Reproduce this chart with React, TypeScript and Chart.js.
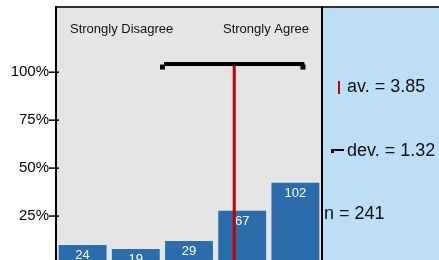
import React, { useEffect, useRef } from "react";
import { Chart, registerables } from "chart.js";

Chart.register(...registerables);

const categories = ["1", "2", "3", "4", "5"];
const counts = [24, 19, 29, 67, 102];
const total = 241;
const meanValue = 3.85;
const devValue = 1.32;
const yTicks = [25, 50, 75, 100];
const yMax = 134;
const errLevel = 104;
const leftLabel = "Strongly Disagree";
const rightLabel = "Strongly Agree";
const statLabels = ["av. = 3.85", "dev. = 1.32", "n = 241"];

const FONT = '"Liberation Sans", Arial, sans-serif';

export default function App() {
  const ref = useRef<HTMLCanvasElement | null>(null);

  useEffect(() => {
    const canvas = ref.current;
    if (!canvas) return;
    const percents = counts.map((c) => (c / total) * 100);

    const deco = {
      id: "deco",
      beforeDraw(chart: any) {
        const { ctx, chartArea: a, width, height } = chart;
        ctx.save();
        ctx.fillStyle = "#e5e5e5";
        ctx.fillRect(a.left, a.top, a.right - a.left, height - a.top);
        ctx.fillStyle = "#bddff6";
        ctx.fillRect(a.right, a.top, width - a.right, height - a.top);
        ctx.restore();
      },
      afterDatasetsDraw(chart: any) {
        const { ctx, chartArea: a, width, height, scales } = chart;
        const xs = scales.x;
        const ys = scales.y;
        ctx.save();
        // data labels
        const meta = chart.getDatasetMeta(0);
        ctx.fillStyle = "#ffffff";
        ctx.font = `13px ${FONT}`;
        ctx.textAlign = "center";
        ctx.textBaseline = "alphabetic";
        meta.data.forEach((bar: any, i: number) => {
          ctx.fillText(String(counts[i]), bar.x, bar.y + 14);
        });
        // mean line
        const mx = xs.getPixelForValue(meanValue - 1);
        const ey = ys.getPixelForValue(errLevel);
        ctx.fillStyle = "#c00000";
        ctx.fillRect(mx - 1.5, ey, 3, height - ey);
        // error bar
        const lo = xs.getPixelForValue(meanValue - devValue - 1);
        const hi = xs.getPixelForValue(meanValue + devValue - 1);
        ctx.fillStyle = "#000000";
        ctx.fillRect(lo, ey - 2.5, hi - lo, 4);
        ctx.fillRect(lo - 4, ey, 5, 5);
        ctx.fillRect(hi - 4, ey, 5, 5);
        // borders
        ctx.fillStyle = "#333333";
        ctx.fillRect(a.left - 1, a.top - 1, width - a.left + 1, 2);
        ctx.fillStyle = "#000000";
        ctx.fillRect(a.left - 1, a.top - 1, 2, height - a.top + 1);
        ctx.fillRect(a.right - 1, a.top - 1, 2, height - a.top + 1);
        // y ticks
        yTicks.forEach((t) => {
          const y = ys.getPixelForValue(t);
          ctx.fillRect(a.left - 7, y - 0.75, 10, 1.5);
        });
        // header labels
        ctx.fillStyle = "#111111";
        ctx.font = `13px ${FONT}`;
        ctx.textAlign = "left";
        ctx.fillText(leftLabel, a.left + 14, a.top + 26);
        ctx.textAlign = "right";
        ctx.fillText(rightLabel, a.right - 13, a.top + 26);
        // stats panel
        ctx.font = `18px ${FONT}`;
        ctx.textAlign = "left";
        ctx.fillStyle = "#111111";
        ctx.fillText(statLabels[0], a.right + 25, a.top + 85);
        ctx.fillText(statLabels[1], a.right + 25, a.top + 149);
        ctx.fillText(statLabels[2], a.right + 2, a.top + 212);
        // legend marks
        ctx.fillStyle = "#c00000";
        ctx.fillRect(a.right + 16, a.top + 74, 2, 13);
        ctx.fillStyle = "#000000";
        ctx.fillRect(a.right + 9, a.top + 142, 13, 2);
        ctx.fillRect(a.right + 9, a.top + 142, 3, 4);
        ctx.restore();
      },
    };

    const chart = new Chart(canvas, {
      type: "bar",
      data: {
        labels: categories,
        datasets: [
          {
            data: percents,
            backgroundColor: "#2b6dab",
            barPercentage: 0.9,
            categoryPercentage: 1.0,
          },
        ],
      },
      options: {
        responsive: false,
        animation: false,
        devicePixelRatio: 1,
        layout: { padding: { top: 7, right: 117, bottom: 6, left: 0 } },
        plugins: { legend: { display: false }, tooltip: { enabled: false } },
        scales: {
          x: { display: false },
          y: {
            min: 0,
            max: yMax,
            afterBuildTicks: (s: any) => {
              s.ticks = yTicks.map((v) => ({ value: v }));
            },
            afterFit: (s: any) => {
              s.width = 56;
              s.paddingTop = 0;
              s.paddingBottom = 0;
            },
            ticks: {
              callback: (v: any) => `${v}%`,
              color: "#000000",
              font: { family: FONT, size: 15 },
              padding: 7,
            },
            grid: { drawOnChartArea: false, drawTicks: false },
            border: { display: false },
          },
        },
      },
      plugins: [deco],
    });
    return () => chart.destroy();
  }, []);

  return (
    <div style={{ position: "fixed", left: 0, top: 0, width: 439, height: 270 }}>
      <canvas ref={ref} width={439} height={270} style={{ width: 439, height: 270, display: "block" }} />
    </div>
  );
}
